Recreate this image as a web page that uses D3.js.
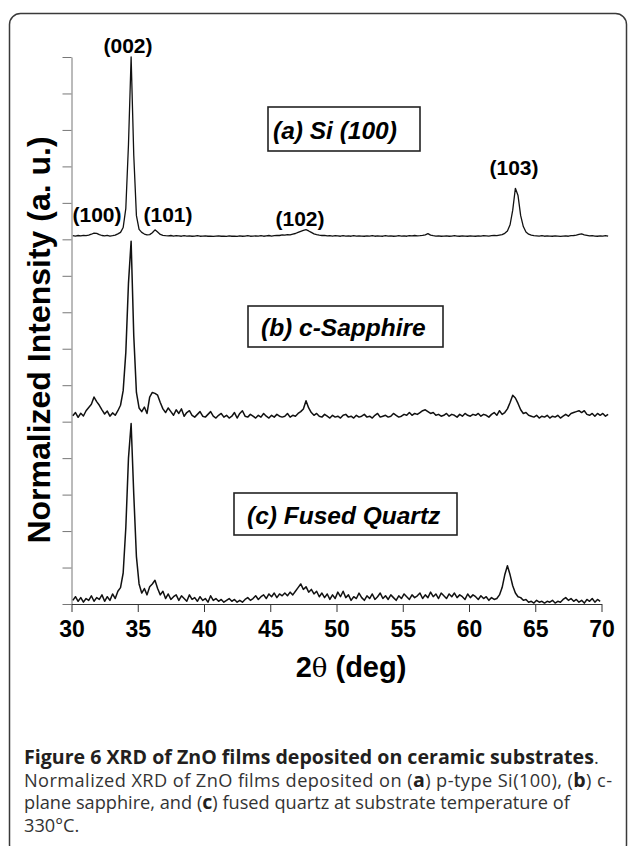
<!DOCTYPE html>
<html><head><meta charset="utf-8">
<script src="https://cdn.jsdelivr.net/npm/d3@7/dist/d3.min.js"></script>
<style>body{margin:0;background:#fff} svg{display:block}</style>
</head><body>
<script>
// 2θ sampling grid of the scans (deg)
const twoThetaStart = 30.1;
const twoThetaStep = 0.2;

// Normalized intensity (% of the (002) peak)
const siValues = [
  2.0, 1.8, 2.1, 1.9, 2.2, 2.0, 2.3, 2.8, 3.4, 3.3,
  2.6, 2.1, 1.9, 2.2, 1.8, 2.0, 2.3, 3.0, 3.8, 6.5,
  17, 52, 100, 46, 13, 5.5, 3.8, 2.9, 2.4, 2.6,
  3.6, 5.2, 4.0, 2.7, 2.2, 2.0, 1.9, 2.1, 1.8, 2.0,
  1.9, 1.7, 2.0, 1.8, 1.9, 1.7, 1.8, 2.0, 1.7, 1.8,
  1.9, 1.7, 1.8, 1.6, 1.8, 1.9, 1.7, 1.8, 1.6, 1.9,
  1.7, 1.8, 1.6, 1.9, 1.7, 1.8, 2.0, 1.7, 1.8, 1.9,
  1.8, 2.0, 1.7, 1.9, 2.1, 1.8, 2.0, 2.2, 2.1, 2.4,
  2.3, 2.6, 2.5, 2.9, 3.2, 3.8, 4.4, 4.9, 5.3, 4.6,
  3.8, 3.0, 2.6, 2.3, 2.1, 2.2, 1.9, 2.0, 1.8, 2.0,
  1.9, 1.7, 2.0, 1.8, 1.9, 1.7, 2.0, 1.8, 1.9, 1.8,
  1.7, 1.9, 1.8, 2.0, 1.7, 1.9, 1.8, 1.7, 2.0, 1.8,
  1.9, 1.7, 1.8, 2.0, 1.8, 1.9, 1.7, 2.0, 1.9, 2.1,
  1.9, 2.0, 2.2, 2.5, 3.1, 2.3, 2.0, 1.8, 1.9, 1.7,
  1.8, 1.9, 1.7, 1.8, 2.0, 1.8, 1.7, 1.9, 1.8, 1.7,
  1.9, 1.8, 1.7, 1.9, 1.8, 2.0, 1.9, 1.8, 2.0, 2.1,
  2.0, 2.3, 2.6, 3.3, 4.6, 8.0, 16, 28, 24, 13,
  7.0, 4.0, 2.8, 2.3, 2.0, 1.9, 1.8, 2.0, 1.7, 1.9,
  1.8, 1.7, 1.9, 1.8, 1.6, 1.8, 1.9, 1.7, 2.0, 2.1,
  2.3, 2.7, 3.0, 2.5, 2.2, 1.9, 2.0, 1.8, 1.7, 1.9,
  1.8, 2.0, 1.7
];
const sapphireValues = [
  3.2, 5.0, 2.4, 4.6, 3.1, 6.0, 7.8, 9.5, 13.5, 11.0,
  9.0, 6.5, 4.2, 5.8, 3.0, 4.8, 3.5, 6.0, 9.0, 17,
  38, 76, 99, 47, 16, 7.5, 5.5, 8.0, 4.5, 13.5,
  16, 15.5, 14.5, 10.5, 7.0, 5.0, 7.5, 5.5, 3.5, 6.5,
  4.5, 7.0, 3.0, 5.0, 6.0, 3.5, 2.5, 4.0, 5.5, 3.0,
  2.5, 4.0, 5.5, 3.0, 2.0, 3.5, 4.5, 2.5, 3.5, 2.0,
  3.0, 5.0, 2.0, 4.5, 6.0, 3.0, 2.5, 4.0, 3.0, 2.0,
  3.5, 2.5, 4.5, 3.0, 2.0, 3.5, 2.5, 4.0, 3.0, 2.5,
  3.0, 4.5, 2.5, 3.5, 3.0, 4.5, 5.5, 7.0, 11.5, 7.5,
  5.0, 3.5, 4.5, 3.0, 2.5, 4.0, 3.0, 2.0, 3.5, 2.5,
  3.0, 2.0, 3.5, 4.0, 2.5, 3.0, 2.0, 3.5, 2.5, 3.0,
  4.0, 2.5, 3.0, 2.0, 3.5, 4.5, 2.5, 3.0, 3.5, 2.5,
  3.0, 4.5, 3.5, 2.5, 3.0, 4.0, 3.5, 5.0, 3.5, 4.5,
  4.0, 5.0, 6.0, 6.5, 5.5, 4.5, 5.0, 3.5, 4.0, 3.0,
  3.5, 4.5, 3.0, 4.0, 3.5, 2.5, 4.0, 3.0, 4.5, 3.5,
  3.0, 4.0, 3.5, 4.5, 3.0, 4.0, 3.5, 2.5, 4.0, 5.0,
  3.5, 6.0, 4.0, 5.0, 7.0, 10.5, 14.5, 13.0, 10.0, 6.5,
  4.5, 5.0, 3.5, 3.0, 2.5, 3.5, 2.0, 3.0, 2.5, 3.5,
  2.0, 3.0, 2.5, 3.5, 2.0, 3.0, 4.0, 3.0, 4.5, 5.0,
  5.5, 6.0, 5.0, 6.0, 4.0, 3.5, 4.5, 3.0, 4.5, 3.5,
  4.5, 3.0, 4.0
];
const quartzValues = [
  2.0, 4.0, 1.5, 3.5, 1.0, 3.0, 2.0, 4.5, 1.5, 3.5,
  2.5, 5.0, 1.5, 4.0, 2.0, 5.5, 3.0, 7.0, 9.0, 17,
  42, 80, 99, 60, 26, 11, 6.0, 8.5, 5.0, 9.5,
  11, 13, 8.5, 5.0, 7.0, 3.0, 5.5, 2.5, 4.0, 5.0,
  2.0, 4.5, 3.0, 1.5, 5.0, 2.5, 3.5, 1.5, 4.0, 2.0,
  3.0, 1.0, 4.5, 2.0, 3.0, 1.5, 2.5, 1.0, 2.0, 3.0,
  1.5, 2.5, 1.0, 2.0, 1.0, 2.5, 3.5, 2.0, 3.0, 4.5,
  2.5, 4.0, 5.0, 3.0, 5.5, 4.0, 6.0, 3.5, 5.5, 4.5,
  6.0, 4.5, 6.5, 5.0, 7.0, 9.0, 11.0, 8.0, 9.5, 6.5,
  8.0, 5.5, 7.0, 4.0, 6.0, 3.5, 5.5, 2.5, 5.0, 3.0,
  6.5, 4.0, 7.0, 3.5, 5.0, 2.0, 4.0, 3.0, 6.0, 3.5,
  2.0, 4.5, 3.0, 5.5, 2.5, 4.0, 6.0, 3.0, 4.5, 2.5,
  5.0, 3.5, 2.0, 4.5, 3.0, 5.5, 4.0, 2.5, 5.0, 3.5,
  4.5, 6.0, 3.0, 5.0, 3.5, 6.5, 4.0, 5.5, 3.0, 6.0,
  4.5, 3.0, 5.5, 4.0, 6.0, 3.5, 5.0, 4.0, 2.5, 5.5,
  3.5, 5.0, 4.0, 2.5, 4.5, 3.0, 4.0, 2.0, 3.5, 2.5,
  3.0, 5.0, 9.0, 16, 21, 16, 10, 6.0, 4.0, 3.5,
  2.0, 2.5, 1.0, 1.5, 0.5, 2.0, 1.0, 1.5, 0.5, 1.5,
  1.0, 2.0, 0.5, 1.5, 1.0, 2.5, 3.5, 2.0, 3.0, 1.5,
  2.5, 1.0, 2.0, 0.5, 2.5, 1.5, 3.0, 1.0, 2.5, 1.5
];

const seriesLabels = ["(a) Si (100)", "(b) c-Sapphire", "(c) Fused Quartz"];
const seriesStackOffsets = [10, 5, 0];   // vertical offset of each scan (axis units)
const peakLabels = ["(002)", "(100)", "(101)", "(102)", "(103)"];
const xTickValues = [30, 35, 40, 45, 50, 55, 60, 65, 70];
const yTickValues = [0,1,2,3,4,5,6,7,8,9,10,11,12,13,14,15];
const xTitle = ["2", "θ", " (deg)"];
const yTitle = "Normalized Intensity (a. u.)";

const W = 629, H = 846;
const svg = d3.select("body").append("svg").attr("width", W).attr("height", H);

// outer frame
svg.append("rect").attr("x", 9.5).attr("y", 13.5).attr("width", 617).attr("height", 842)
  .attr("rx", 11).attr("fill", "none").attr("stroke", "#3a3a3a").attr("stroke-width", 1.5);

const x = d3.scaleLinear().domain([30, 70]).range([71.5, 601.5]);
const y = d3.scaleLinear().domain([0, 15]).range([604, 57]);

// y axis
const gy = svg.append("g").attr("transform", "translate(71.5,0)")
  .call(d3.axisLeft(y).tickValues(yTickValues).tickSize(9).tickSizeOuter(0).tickFormat(""));
gy.selectAll("path,line").attr("stroke", "#777").attr("stroke-width", 1);

// x axis
const gx = svg.append("g").attr("transform", "translate(0,604)")
  .call(d3.axisBottom(x).tickValues(xTickValues).tickSize(8).tickSizeOuter(0).tickPadding(9));
gx.selectAll("path,line").attr("stroke", "#333").attr("stroke-width", 1);
gx.selectAll("text").attr("font-family", "Arial, 'Liberation Sans', sans-serif")
  .attr("font-weight", "bold").attr("font-size", 23).attr("fill", "#000");

// scans
const series = [siValues, sapphireValues, quartzValues];
series.forEach((vals, k) => {
  const line = d3.line()
    .x((d, i) => x(twoThetaStart + i * twoThetaStep))
    .y(d => y(seriesStackOffsets[k] + d / 20));
  svg.append("path").datum(vals).attr("d", line)
    .attr("fill", "none").attr("stroke", "#111").attr("stroke-width", k === 0 ? 1.3 : 1.5)
    .attr("stroke-linejoin", "round");
});

const arial = "Arial, 'Liberation Sans', sans-serif";

// peak labels
const peakPos = [[128, 53], [97, 222], [168, 222], [300, 226], [514, 175]];
peakLabels.forEach((t, i) => {
  svg.append("text").attr("x", peakPos[i][0]).attr("y", peakPos[i][1])
    .attr("text-anchor", "middle").attr("font-family", arial).attr("font-weight", "bold")
    .attr("font-size", 21).attr("fill", "#000").text(t);
});

// sample boxes
const boxes = [
  {x0: 268, y0: 107, x1: 420, y1: 151, tx: 273, ty: 139},
  {x0: 248, y0: 306, x1: 443, y1: 347, tx: 261, ty: 336},
  {x0: 234, y0: 493, x1: 457, y1: 535, tx: 247, ty: 524}
];
seriesLabels.forEach((t, i) => {
  const b = boxes[i];
  svg.append("rect").attr("x", b.x0).attr("y", b.y0).attr("width", b.x1 - b.x0).attr("height", b.y1 - b.y0)
    .attr("fill", "#fff").attr("stroke", "#222").attr("stroke-width", 1.6);
  svg.append("text").attr("x", b.tx).attr("y", b.ty).attr("font-family", arial)
    .attr("font-weight", "bold").attr("font-style", "italic").attr("font-size", 24.5)
    .attr("fill", "#000").text(t);
});

// axis titles
svg.append("text").attr("transform", "translate(50,340) rotate(-90)").attr("text-anchor", "middle")
  .attr("font-family", arial).attr("font-weight", "bold").attr("font-size", 32).attr("fill", "#000")
  .text(yTitle);

const xt = svg.append("text").attr("x", 351).attr("y", 677).attr("text-anchor", "middle")
  .attr("font-family", arial).attr("font-weight", "bold").attr("font-size", 29).attr("fill", "#000");
xt.append("tspan").text(xTitle[0]);
xt.append("tspan").attr("font-weight", "normal").attr("font-family", "'DejaVu Serif', serif").attr("font-size", 26).text(xTitle[1]);
xt.append("tspan").text(xTitle[2]);

// caption
const capFont = "'Open Sans', 'Noto Sans', sans-serif";
const capLines = [
  [["Figure 6 XRD of ZnO films deposited on ceramic substrates", true], [".", false]],
  [["Normalized XRD of ZnO films deposited on (", false], ["a", true], [") p-type Si(100), (", false], ["b", true], [") c-", false]],
  [["plane sapphire, and (", false], ["c", true], [") fused quartz at substrate temperature of", false]],
  [["330°C.", false]]
];
const capY = [764, 787, 809, 832];
const capWidths = [null, 588, null, null];
capLines.forEach((parts, li) => {
  const t = svg.append("text").attr("x", 24).attr("y", capY[li]).attr("font-family", capFont)
    .attr("fill", "#231f20");
  if (capWidths[li]) t.attr("textLength", capWidths[li]).attr("lengthAdjust", "spacing");
  parts.forEach(p => t.append("tspan")
    .attr("font-weight", p[1] ? "bold" : "normal")
    .attr("font-size", p[1] ? 19.6 : 18.2)
    .attr("fill", p[1] ? "#231f20" : "#333")
    .text(p[0]));
});
</script>
</body></html>
